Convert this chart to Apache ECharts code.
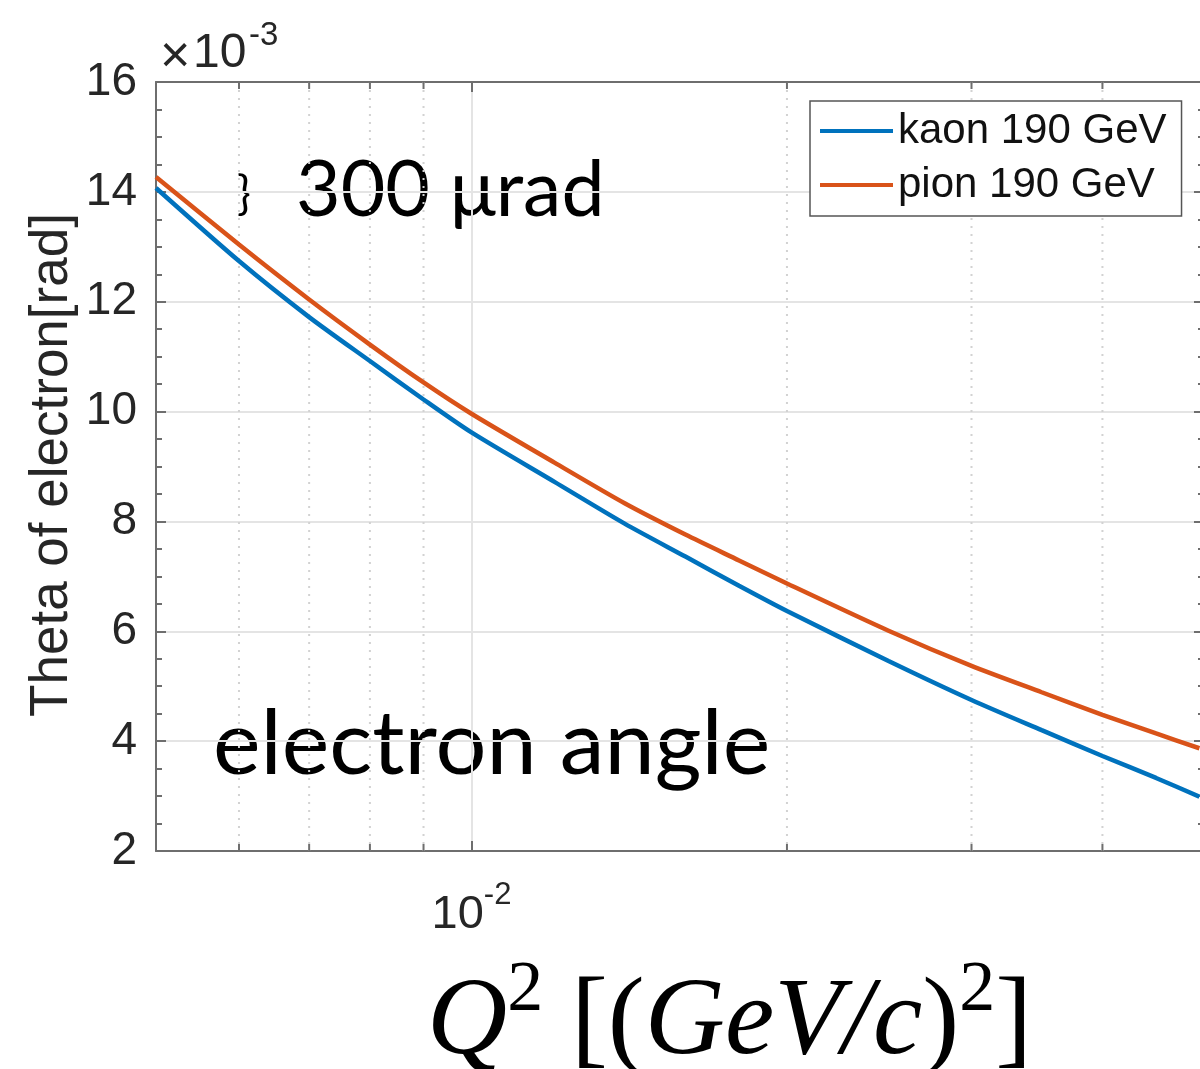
<!DOCTYPE html>
<html><head><meta charset="utf-8">
<script src="https://cdn.jsdelivr.net/npm/echarts@6/dist/echarts.min.js"></script>
<style>html,body{margin:0;padding:0;background:#fff}#c{width:1200px;height:1069px}</style>
</head><body><div id="c"></div>
<script>
// Q^2 sample points [(GeV/c)^2]
const q2 = [0.005,0.006,0.007,0.008,0.009,0.010,0.012,0.014,0.016,0.018,0.020,0.025,0.030,0.035,0.040,0.045,0.0495];
// electron angle, in units of 1e-3 rad (axis multiplier x10^-3)
const kaon190 = [14.07,12.74,11.72,10.92,10.22,9.62,8.72,7.96,7.36,6.83,6.37,5.46,4.75,4.20,3.73,3.33,2.99];
const pion190 = [14.27,13.04,12.04,11.22,10.53,9.96,9.07,8.33,7.76,7.29,6.87,6.01,5.37,4.89,4.48,4.14,3.87];
const seriesNames = ['kaon 190 GeV', 'pion 190 GeV'];
const seriesColors = ['#0072BD', '#D95319'];
// minor (dotted) x grid positions
const minorQ2 = [0.006,0.007,0.008,0.009,0.02,0.03,0.04];
const xMin = 0.005, xMax = 0.05;
const yMin = 2, yMax = 16, yStep = 2;

const AX = '#6e6e6e';
const TXT = '#262626';
const SANS = '"Liberation Sans", Arial, sans-serif';
const CAL = 'Lato, "Open Sans", sans-serif';
const SERIF = '"Liberation Serif", "Times New Roman", serif';

const chart = echarts.init(document.getElementById('c'), null, {renderer: 'canvas'});

function xLabel(v) {
  const e = Math.log10(v);
  if (Math.abs(e - Math.round(e)) < 1e-6 && v > xMin * 1.01 && v < xMax * 0.99) {
    return '{a|10}{b|' + Math.round(e) + '}';
  }
  return '';
}

const baseX = {
  type: 'log', logBase: 10, min: xMin, max: xMax,
  axisLine: {show: true, onZero: false, lineStyle: {color: AX, width: 2}},
  axisTick: {show: true, inside: true, length: 10, lineStyle: {color: AX, width: 2}},
  minorTick: {show: false},
  minorSplitLine: {show: false}
};
const baseY = {
  type: 'value', min: yMin, max: yMax, interval: yStep,
  axisLine: {show: true, onZero: false, lineStyle: {color: AX, width: 2}},
  axisTick: {show: true, inside: true, length: 10, lineStyle: {color: AX, width: 2}},
  minorTick: {show: true, splitNumber: 4, length: 6, lineStyle: {color: AX, width: 2}}
};

const option = {
  backgroundColor: '#ffffff',
  animation: false,
  grid: {left: 156, top: 82, width: 1048, height: 769, containLabel: false, outerBoundsMode: 'none'},
  legend: {
    data: seriesNames, orient: 'vertical', left: 810, top: 101,
    icon: 'rect', itemWidth: 73, itemHeight: 4, itemGap: 4,
    padding: [5, 15, 6, 10],
    backgroundColor: '#ffffff', borderColor: '#555555', borderWidth: 1.5,
    textStyle: {fontSize: 42, fontFamily: SANS, color: '#111111', lineHeight: 50}
  },
  xAxis: [
    Object.assign({}, baseX, {
      position: 'bottom',
      axisLabel: {
        show: true, margin: 29, formatter: xLabel, color: TXT,
        rich: {
          a: {fontSize: 47, fontFamily: SANS, color: TXT},
          b: {fontSize: 31, fontFamily: SANS, color: TXT, padding: [0, 0, 40, 0]}
        }
      },
      splitLine: {show: true, lineStyle: {color: '#e4e4e4', width: 2}}
    }),
    Object.assign({}, baseX, {
      position: 'top', axisLabel: {show: false}, splitLine: {show: false}
    })
  ],
  yAxis: [
    Object.assign({}, baseY, {
      position: 'left',
      axisLabel: {show: true, margin: 19, fontSize: 46, fontFamily: SANS, color: TXT},
      splitLine: {show: true, lineStyle: {color: '#e4e4e4', width: 2}}
    }),
    Object.assign({}, baseY, {
      position: 'right', axisLabel: {show: false}, splitLine: {show: false}
    })
  ],
  series: [
    {
      type: 'custom', name: 'minorGrid', xAxisIndex: 0, yAxisIndex: 0, z: 1, silent: true,
      data: minorQ2,
      encode: {x: 0},
      renderItem: function (params, api) {
        const cs = params.coordSys;
        const x = api.coord([api.value(0), yMin])[0];
        const yb = cs.y + cs.height, yt = cs.y;
        return {
          type: 'group', children: [
            {type: 'line', shape: {x1: x, y1: yt, x2: x, y2: yb}, style: {stroke: '#d2d2d2', lineWidth: 2, lineDash: [2, 6]}},
            {type: 'line', shape: {x1: x, y1: yb, x2: x, y2: yb - 7}, style: {stroke: AX, lineWidth: 2}},
            {type: 'line', shape: {x1: x, y1: yt, x2: x, y2: yt + 7}, style: {stroke: AX, lineWidth: 2}}
          ]
        };
      }
    },
    {
      type: 'line', name: seriesNames[0], xAxisIndex: 0, yAxisIndex: 0, z: 3,
      data: q2.map((q, i) => [q, kaon190[i]]),
      showSymbol: false, symbol: 'none', smooth: 0.25,
      lineStyle: {color: seriesColors[0], width: 4.5}, itemStyle: {color: seriesColors[0]}
    },
    {
      type: 'line', name: seriesNames[1], xAxisIndex: 0, yAxisIndex: 0, z: 3,
      data: q2.map((q, i) => [q, pion190[i]]),
      showSymbol: false, symbol: 'none', smooth: 0.25,
      lineStyle: {color: seriesColors[1], width: 4.5}, itemStyle: {color: seriesColors[1]}
    }
  ],
  graphic: [
    // y-axis multiplier
    {type: 'text', x: 160, y: 58, style: {text: '\u00d7', fontSize: 52, fontFamily: SANS, fill: TXT, align: 'left', verticalAlign: 'middle'}},
    {type: 'text', x: 193, y: 54, style: {text: '10', fontSize: 48, fontFamily: SANS, fill: TXT, align: 'left', verticalAlign: 'middle'}},
    {type: 'text', x: 249, y: 36, style: {text: '-3', fontSize: 33, fontFamily: SANS, fill: TXT, align: 'left', verticalAlign: 'middle'}},
    // y-axis title
    {type: 'text', x: 52, y: 465, rotation: Math.PI / 2, style: {text: 'Theta of electron[rad]', fontSize: 53, fontFamily: SANS, fill: TXT, align: 'center', verticalAlign: 'middle'}},
    // annotations
    {type: 'text', x: 237, y: 194, style: {text: '}', fontSize: 46, fontFamily: CAL, fill: '#000', align: 'left', verticalAlign: 'middle'}},
    {type: 'text', x: 296, y: 191, style: {text: '300 \u03bcrad', fontSize: 77, fontFamily: CAL, fill: '#000', align: 'left', verticalAlign: 'middle'}},
    {type: 'text', x: 213, y: 745, style: {text: 'electron angle', fontSize: 90, fontFamily: CAL, fill: '#000', align: 'left', verticalAlign: 'middle'}},
    // x-axis title
    {type: 'text', x: 427, y: 1024, style: {
      text: '{i|Q}{s|2}{u| [(}{i|GeV/c}{u|)}{s|2}{u|]}',
      align: 'left', verticalAlign: 'middle',
      rich: {
        i: {fontSize: 111, fontFamily: SERIF, fontStyle: 'italic', fill: '#000'},
        u: {fontSize: 111, fontFamily: SERIF, fill: '#000'},
        s: {fontSize: 72, fontFamily: SERIF, fill: '#000', padding: [0, 0, 66, 0]}
      }
    }}
  ]
};
chart.setOption(option);
</script>
</body></html>
